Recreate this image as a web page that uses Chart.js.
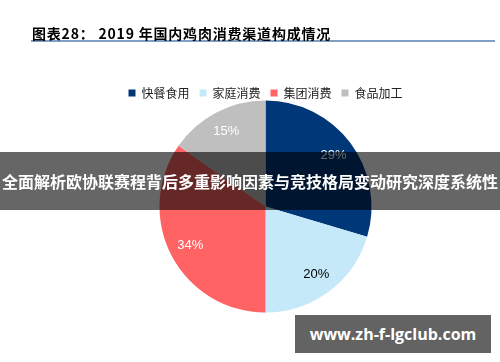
<!DOCTYPE html>
<html>
<head>
<meta charset="utf-8">
<script src="https://cdn.jsdelivr.net/npm/chart.js@4.4.0/dist/chart.umd.min.js"></script>
<style>
  body { margin: 0; background: #fff; }
  #wrap { position: relative; width: 500px; height: 362px; overflow: hidden; }
  #title {
    position: absolute; left: 32px; top: 23px; white-space: nowrap;
    font: bold 14px "Noto Sans CJK SC", sans-serif; letter-spacing: 0.8px; color: #000;
  }
  #banner {
    position: absolute; left: 0; top: 152px; width: 500px; height: 58px;
    background: rgba(0,0,0,0.6); color: #fff; font: bold 16px "Noto Sans CJK SC", sans-serif;
    line-height: 58px; text-align: center; white-space: nowrap;
  }
  #mark {
    position: absolute; left: 295px; top: 315px; width: 196px; height: 38px;
    background: #636363; color: #fff; font: bold 16px "Open Sans", sans-serif;
    line-height: 38px; text-align: center;
  }
</style>
</head>
<body>
<div id="wrap">
  <canvas id="myChart" width="500" height="362"></canvas>
  <div id="title">图表28： 2019 年国内鸡肉消费渠道构成情况</div>
  <div id="banner">全面解析欧协联赛程背后多重影响因素与竞技格局变动研究深度系统性</div>
  <div id="mark">www.zh-f-lgclub.com</div>
</div>
<script>
const labels = ["快餐食用", "家庭消费", "集团消费", "食品加工"]
const values = [29, 20, 34, 15]
const colors = ["#003778", "#c5e9f9", "#ff6363", "#bfbfbf"]
const labelColors = ["#ffffff", "#000000", "#ffffff", "#ffffff"]

// 标题下方的蓝线
const titleLine = {
  id: "titleLine",
  afterDraw(chart) {
    const ctx = chart.ctx
    ctx.save()
    ctx.strokeStyle = "#809fc6"
    ctx.lineWidth = 2
    ctx.beginPath()
    ctx.moveTo(31, 41)
    ctx.lineTo(495, 41)
    ctx.stroke()
    ctx.restore()
  }
}

// 扇区上的百分比
const pctLabels = {
  id: "pctLabels",
  afterDatasetsDraw(chart) {
    const ctx = chart.ctx
    const meta = chart.getDatasetMeta(0)
    ctx.save()
    ctx.font = "13px 'Liberation Sans', Arial, sans-serif"
    ctx.textAlign = "center"
    ctx.textBaseline = "middle"
    meta.data.forEach(function (arc, i) {
      const mid = (arc.startAngle + arc.endAngle) / 2
      const r = arc.outerRadius * 0.8
      ctx.fillStyle = labelColors[i]
      ctx.fillText(values[i] + "%", arc.x + Math.cos(mid) * r, arc.y + Math.sin(mid) * r)
    })
    ctx.restore()
  }
}

const chart = new Chart("myChart", {
  type: "pie",
  data: {
    labels: labels,
    datasets: [{
      data: values,
      backgroundColor: colors,
      borderWidth: 0
    }]
  },
  options: {
    responsive: false,
    animation: false,
    radius: 106,
    layout: { padding: { left: 31, right: 0, top: 77, bottom: 58 } },
    plugins: {
      title: { display: false },
      legend: {
        position: "top",
        labels: {
          boxWidth: 7,
          boxHeight: 7,
          color: "#222",
          padding: 10,
          font: { size: 12, family: "'Noto Sans CJK SC', sans-serif" }
        }
      },
      tooltip: { enabled: false }
    }
  },
  plugins: [titleLine, pctLabels]
})
</script>
</body>
</html>
